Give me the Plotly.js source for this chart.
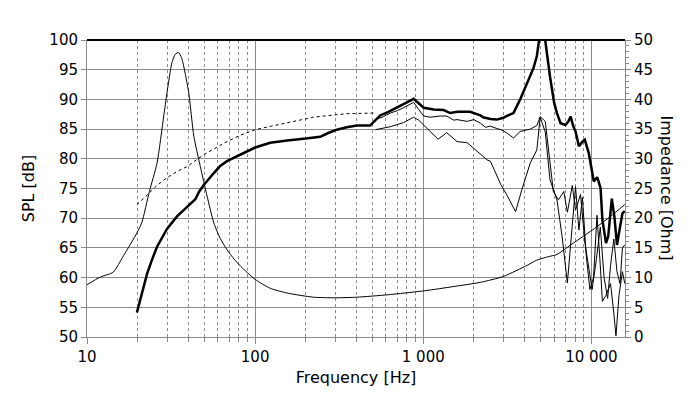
<!DOCTYPE html>
<html>
<head>
<meta charset="utf-8">
<script src="https://cdn.plot.ly/plotly-3.0.1.min.js"></script>
<style>html,body{margin:0;padding:0;background:#fff;}#chart{width:700px;height:399px;}</style>
</head>
<body>
<div id="chart"></div>
<script>
// Impedance curve (right axis, Ohm)
const freqImp = [10,12,14.3,16.5,19.8,21.2,23.5,26.1,28.6,29.9,32,33.5,35.1,36.5,37.6,40.3,43.2,47.2,51.8,56.8,62,68,75,82,100,123,155,222,300,403,610,1028,1520,2187,3000,4170,4700,5500,6250,7530,9000,10830,13000,15800];
const impedance = [8.8,10.1,10.9,13.7,17.5,19.3,24.5,29.3,37.2,41.1,46.2,47.6,47.9,47.0,45.6,41.1,33.8,28.7,23.7,19.2,16.6,14.7,13.1,11.9,9.7,8.2,7.4,6.7,6.6,6.7,7.1,7.8,8.5,9.2,10.2,12.1,12.9,13.5,13.9,15.5,17.0,18.6,20.3,22.3];

// Main SPL curve (thick)
const freqMain = [19.8,21.2,22.8,24.5,26.1,29.9,34.3,39.4,44.1,46.5,49.5,56.8,62,68,81.9,100,123,155,200,244,270,306,350,403,483,520,554,620,700,800,877,940,1006,1153,1322,1445,1600,1900,2187,2270,2509,2740,3000,3130,3440,3770,4130,4530,4740,4850,5000,5200,5320,5670,6000,6240,6560,7010,7300,7530,7800,8050,8430,8800,9140,9640,10000,10330,10830,11340,11630,12220,12600,13230,13700,14200,14800,15300,15800];
const splMain = [54.1,57.4,60.7,63.2,65.2,68.2,70.3,71.9,73.2,74.5,75.6,77.6,78.8,79.6,80.7,81.9,82.7,83.1,83.4,83.7,84.3,84.9,85.3,85.6,85.6,86.5,87.3,87.9,88.6,89.5,90.1,89.3,88.6,88.3,88.2,87.7,87.9,87.9,87.3,87.0,86.7,86.6,86.9,87.2,87.7,90.0,92.8,95.3,97.3,99.8,102,102,99.8,93.9,89.5,87.7,86.0,85.7,86.3,87.1,85.5,84.6,82.1,82.8,83.2,81.0,78.5,76.2,76.9,75.1,69.7,65.8,67,73.3,70.3,65.5,68.5,70.8,71.2];

// Dashed low-frequency SPL curve
const freqDashed = [19.8,21,22.8,26,29.9,34,39.4,49.5,60,68,82,100,125,155,222,300,352,504];
const splDashed = [72.3,72.9,73.9,75.5,76.8,77.8,78.7,80.7,82,82.9,84,84.9,85.5,86.1,87.0,87.4,87.6,87.7];

// Upper thin SPL curve
const freqUpper = [519,580,637,700,763,877,940,1006,1100,1262,1379,1520,1587,1827,2000,2187,2345,2500,2740,2900,3130,3440,3770,4330,4740,4960,5320,5670,5940,6370,6850,7200,7700,8050,8620,9140,9640,10100,10700,11300,11900,12500,13000,13600,14200,14800,15300,15800];
const splUpper = [86.6,87.1,87.7,88.1,88.6,89.5,88.3,87.2,87.0,87.2,87.2,86.5,86.6,86.3,86.6,86.0,85.3,85.5,85.1,84.9,84.4,83.5,84.6,85.0,85.6,87.1,86.3,79.8,74.5,73.1,74.5,71.0,75.5,71.4,74.0,66.0,62.0,58.0,63.0,68.5,60,56.5,62,66.5,61,59,65,65.5];

// Lower thin SPL curve
const freqLower = [519,637,763,877,940,1050,1225,1379,1587,1827,2100,2400,2509,2700,2900,3130,3540,3850,4330,4740,4960,5320,5670,6240,6700,7200,7530,8050,8430,8850,9300,9800,10300,10800,11300,11630,12200,13000,13600,14000,14600,15300,15800];
const splLower = [84.9,85.4,86.1,87.0,86.5,85.2,83.3,84.4,82.9,82.7,81.3,79.8,79.6,77.5,75.6,74.0,71.1,74.7,79.3,81.5,87.0,84.5,76.5,73.1,66.9,59.1,65.8,75.3,68,73.5,64,58,60,70.5,62,56,57,59,54,50.2,57,61,59];

// Axis ticks
const xTickVals = [10,100,1000,10000];
const xTickText = ['10','100','1 000','10 000'];
const xMinorVals = [20,30,40,50,60,70,80,90,200,300,400,500,600,700,800,900,2000,3000,4000,5000,6000,7000,8000,9000];

const thin = {color:'#000', width:1};
const traces = [
  {x:freqImp, y:impedance, yaxis:'y2', mode:'lines', line:{color:'#000', width:1, shape:'spline', smoothing:0.6}},
  {x:freqDashed, y:splDashed, mode:'lines', line:{color:'#000', width:1, dash:'3px,3px'}},
  {x:freqLower, y:splLower, mode:'lines', line:thin},
  {x:freqUpper, y:splUpper, mode:'lines', line:thin},
  {x:freqMain, y:splMain, mode:'lines', line:{color:'#000', width:2.5}}
];

const grid = '#8a8a8a';
const font = {family:'DejaVu Sans, sans-serif', size:15, color:'#000'};
const layout = {
  width:700, height:399,
  margin:{l:87, r:75, t:40, b:62},
  paper_bgcolor:'#fff', plot_bgcolor:'#fff',
  showlegend:false, hovermode:false,
  font:font,
  xaxis:{
    type:'log', range:[1, 4.2],
    tickmode:'array', tickvals:xTickVals, ticktext:xTickText,
    showgrid:true, gridcolor:grid, gridwidth:1,
    ticks:'outside', ticklen:6, tickcolor:grid,
    showline:true, linecolor:grid, linewidth:1, zeroline:false,
    minor:{tickmode:'array', tickvals:xMinorVals, showgrid:true, griddash:'3px,3px', gridcolor:grid, gridwidth:1, ticks:'outside', ticklen:4, tickcolor:grid},
    title:{text:'Frequency [Hz]', font:{family:'DejaVu Sans, sans-serif', size:16, color:'#000'}, standoff:6}
  },
  yaxis:{
    range:[50,100], tick0:50, dtick:5,
    showgrid:true, gridcolor:grid, gridwidth:1,
    ticks:'outside', ticklen:5, tickcolor:grid,
    showline:true, linecolor:grid, zeroline:false,
    title:{text:'SPL [dB]', font:{family:'DejaVu Sans, sans-serif', size:16, color:'#000'}, standoff:10}
  },
  yaxis2:{
    overlaying:'y', side:'right', range:[0,50], tick0:0, dtick:5,
    showgrid:false, ticks:'outside', ticklen:5, tickcolor:grid,
    showline:true, linecolor:grid, zeroline:false,
    minor:{dtick:1, ticks:'outside', ticklen:3, tickcolor:grid}
  },
  shapes:[
    {type:'line', xref:'paper', yref:'paper', x0:0, x1:1, y0:1, y1:1, line:{color:'#000', width:2}}
  ],
  annotations:[
    {xref:'paper', yref:'paper', x:1.078, y:0.5, xanchor:'center', yanchor:'middle', text:'Impedance [Ohm]', showarrow:false, textangle:90, font:{family:'DejaVu Sans, sans-serif', size:16, color:'#000'}}
  ]
};

Plotly.newPlot('chart', traces, layout, {staticPlot:true, displayModeBar:false});
</script>
</body>
</html>
